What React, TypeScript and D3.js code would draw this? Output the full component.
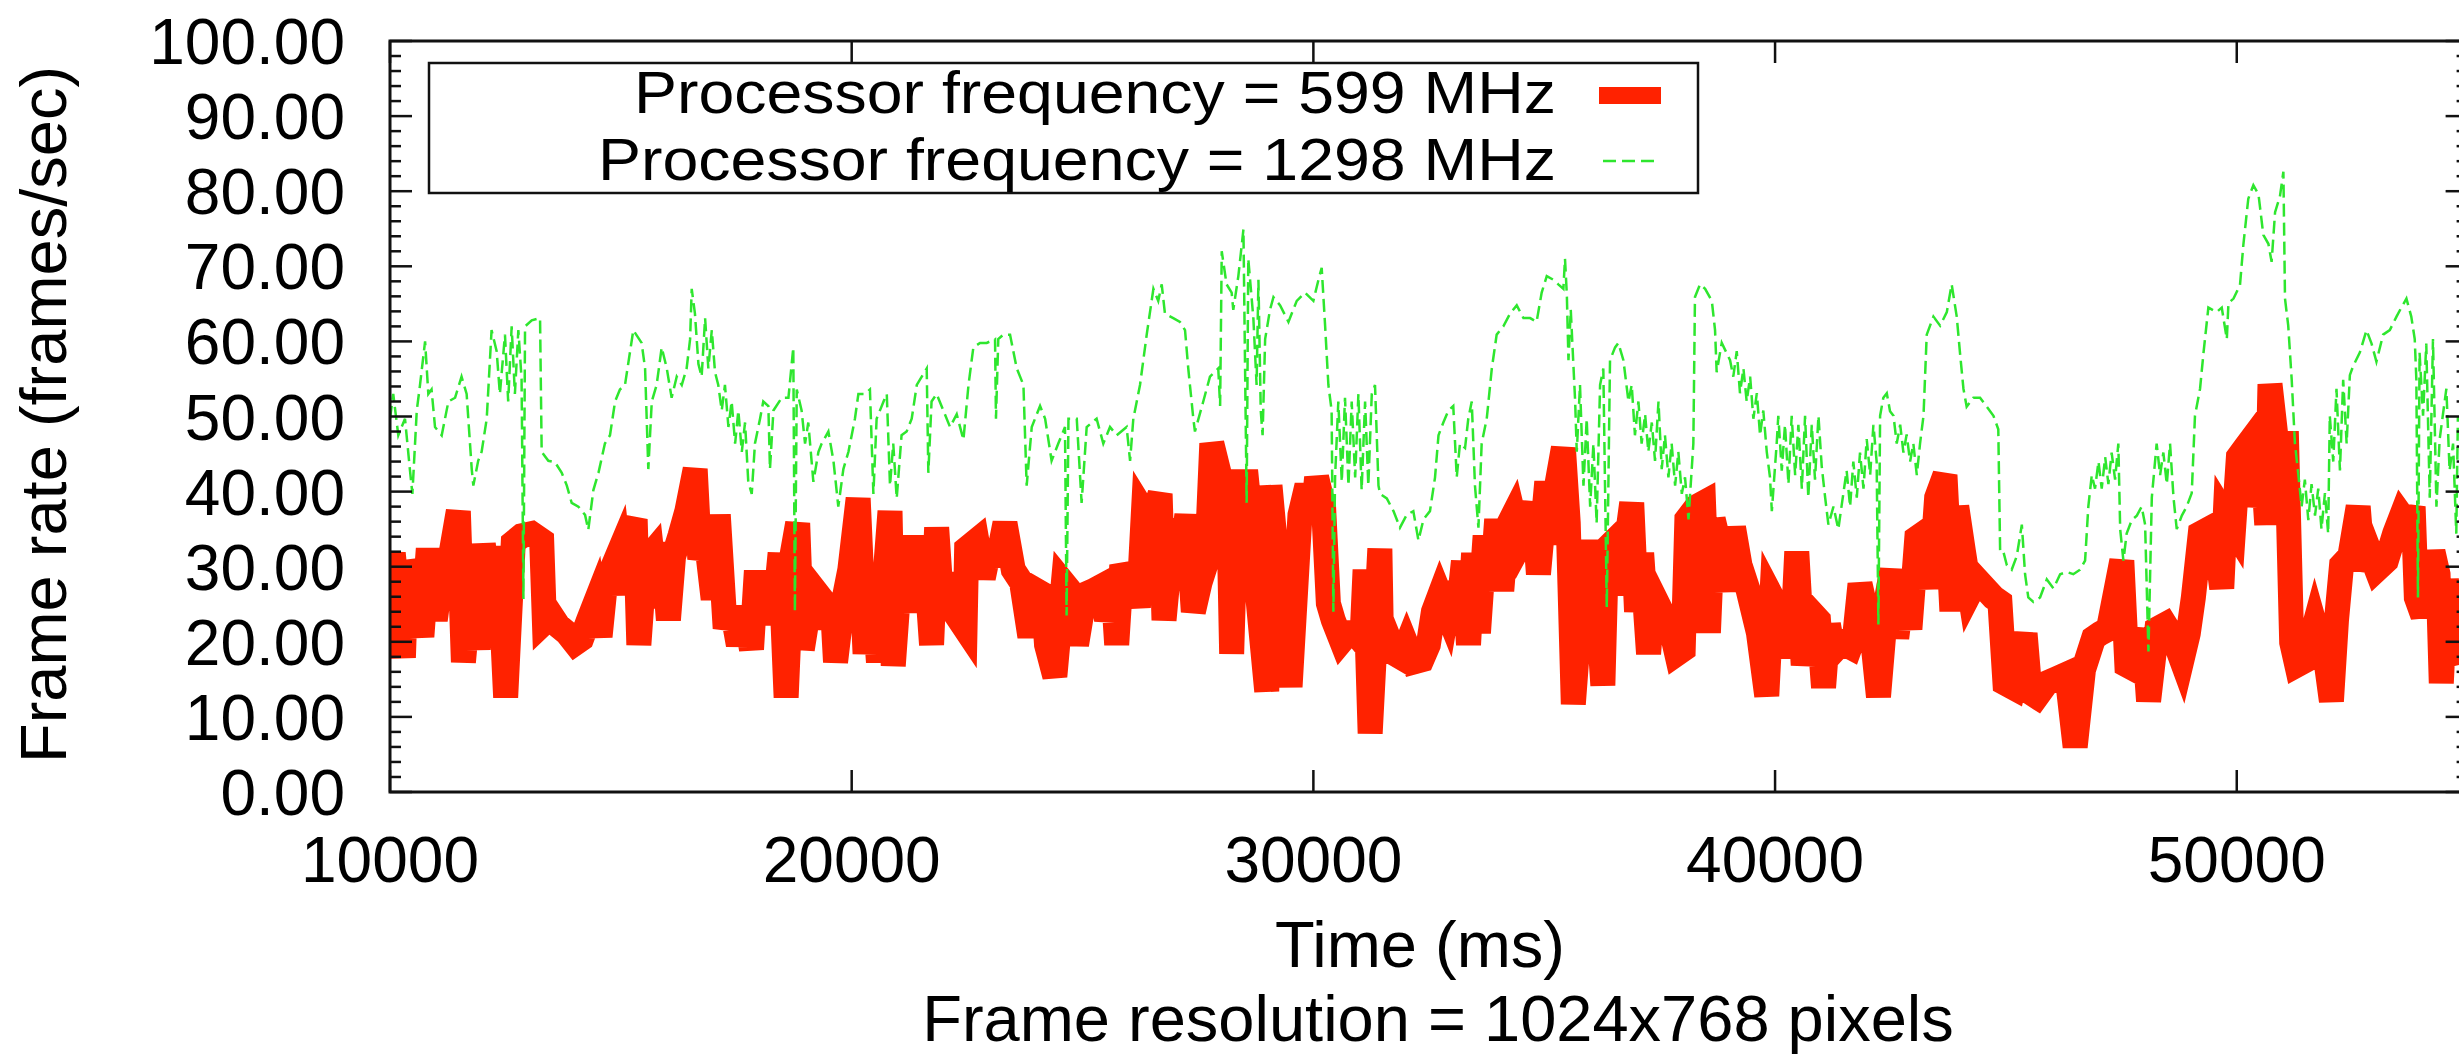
import React from 'react';
import * as d3 from 'd3';

// ---- data ----
const redTime = [
10000,10070,10290,10360,10540,10690,10830,10980,11080,11230,11480,11590,11730,11840,11910,12020,12200,12350,12505,12670,12850,13070,13285,13345,13500,13650,13830,14010,14150,14300,14440,14550,14660,14800,14950,15050,15160,15310,15390,15520,15670,15800,15900,16030,16140,16280,16430,16610,16710,16840,17000,17110,17260,17400,17545,17690,17830,17920,18090,18230,18300,18450,18580,18715,18830,18930,19060,19210,19350,19440,19570,19650,19780,19960,20140,20290,20430,20580,20830,20900,21050,21190,21340,21440,21590,21730,21840,21950,22130,22270,22455,22490,22710,22850,23000,23140,23320,23500,23680,23860,24010,24150,24220,24400,24585,24730,24870,25050,25235,25415,25520,25670,25740,25850,25960,26100,26210,26320,26430,26530,26680,26765,26970,27110,27260,27400,27545,27690,27800,27980,28160,28230,28340,28556,28700,28810,28990,29060,29210,29300,29495,29710,29860,30000,30070,30220,30325,30430,30610,30760,30900,31050,31120,31230,31440,31480,31620,31770,31910,32020,32170,32350,32490,32600,32740,32890,33000,33105,33250,33360,33470,33575,33720,33860,33970,34080,34190,34330,34480,34620,34765,34875,35055,35160,35270,35415,35520,35630,35740,35920,36065,36270,36350,36530,36640,36750,36895,37000,37110,37260,37360,37545,37725,37870,38010,38090,38300,38450,38556,38660,38810,38950,39100,39240,39420,39640,39820,39930,40040,40180,40360,40470,40610,40760,40940,41050,41155,41260,41440,41625,41730,41840,41950,42060,42240,42420,42530,42635,42780,42920,43070,43210,43360,43500,43680,43830,43935,44080,44220,44370,44550,44730,44870,44980,45160,45415,45520,45670,45880,46100,46320,46500,46680,46900,47040,47220,47510,47620,47800,47980,48090,48270,48450,48630,48810,48950,49060,49210,49390,49570,49675,49750,49930,50036,50180,50325,50360,50540,50650,50720,50865,51080,51190,51300,51480,51690,51800,51945,52050,52160,52270,52450,52630,52740,52880,53030,53240,53420,53570,53710,53820,53890,54030,54250,54360,54430,54540,54680,54800];
const redFps = [
28.5,31.8,17.9,30.7,26.8,20.7,32.4,22.9,27.4,28.5,37.4,17.3,26.8,24,19,33,24.6,32.7,12.6,33.2,34.1,34.4,33.5,22.6,23.5,22.1,21.2,19.8,20.4,22.9,25.1,20.7,27.4,29.6,31.8,26.3,34.1,36.3,19.6,30.7,31.8,24.6,33.2,22.9,31.3,34.1,37.4,43,31,34.1,25.7,36.9,21.8,24.6,19.6,24,19,27.9,27.9,26.8,22.3,31.8,12.6,31.8,35.8,19,24,26.8,25.7,21.8,26.3,17.3,24,29.6,39.1,18.4,30.2,17.3,37.4,16.8,29.6,24,34.1,25.1,31.8,19.6,35.2,25.1,29,23.5,21.8,32.4,33.5,28.5,33,30.2,35.8,29.6,27.9,20.7,26.8,26.3,19.6,15.4,27.9,26.8,19.6,26.3,26.8,27.4,22.9,26.3,19.6,30.2,28.5,29,24.6,37.4,36.3,36.9,39.7,22.9,36.3,29.6,36.9,24,27.9,30.7,46.4,41.9,39.7,18.4,41.3,41.3,32.4,25.1,13.4,40.8,30.7,29.6,14,36.9,40.8,37.4,41.9,38,25.1,22.9,20.1,21.2,21.2,20.1,29.6,7.8,32.4,18.4,20.7,18.4,17.9,19.6,17.3,17.6,19.6,24,26.3,24,27.9,22.3,30.7,19.6,31.8,21.2,34.1,26.8,36.3,26.8,35.2,36.9,33,34.6,38.5,29,41.3,33,40.8,45.8,35.8,11.7,20.7,20.1,33.5,14.2,32.4,33.5,26.3,31.8,38.5,24,31.8,18.4,26.3,24,22.3,18.4,19,36.3,38,38.5,21.2,36.3,32.4,26.8,35.2,30.2,26.8,21.2,12.8,26,24.7,22.3,18.1,32,16.9,24.1,22.9,13.9,22.3,18.7,19.9,19.3,21.1,27.7,24.7,23.5,12.7,25.9,29.6,20.5,27.7,21.7,33.8,34.4,27.1,39.2,42.2,24.1,38,32,26.5,28.3,27.1,25.9,25.3,14.5,13.9,21.1,13.3,12.7,14.5,15.1,15.7,6,16.3,20.5,21.1,21.7,30.8,16.9,16.3,21.7,12.1,21.7,22.3,20.5,17.5,21.1,25.9,34.4,35,32,27.1,36.8,35,44.6,45.8,47,38,45.8,35.6,54.3,46.4,46.4,19.9,16.9,17.5,22.3,19.9,16.9,12.1,22.9,30.2,31.4,38,29.6,32,29.6,30.8,34.4,36.8,35.6,38,25.9,23.5,32,29,14.5,28.3,19.9,16.9];

const greenTime = [
10000,10070,10180,10325,10430,10485,10580,10650,10760,10830,10900,10975,11120,11265,11410,11550,11660,11770,11805,11910,11985,12095,12200,12310,12380,12490,12560,12635,12705,12780,12850,12890,12925,13070,13250,13285,13430,13575,13720,13830,13935,14080,14225,14295,14405,14515,14655,14765,14875,14980,15090,15270,15450,15525,15595,15670,15775,15885,15995,16100,16210,16320,16425,16500,16535,16605,16680,16750,16825,16895,16970,17040,17110,17185,17255,17330,17400,17475,17545,17620,17690,17760,17835,17905,18015,18085,18195,18230,18305,18485,18630,18735,18770,18810,18915,18990,19060,19170,19280,19350,19495,19605,19710,19820,19930,20070,20145,20290,20395,20470,20540,20690,20760,20830,20900,20975,21080,21190,21300,21410,21625,21660,21730,21840,21985,22130,22275,22420,22530,22635,22780,22925,23105,23125,23175,23285,23430,23575,23720,23790,23900,24080,24190,24330,24475,24620,24655,24695,24875,24980,25090,25305,25450,25595,25740,25955,26030,26100,26245,26390,26535,26640,26715,26785,26965,27110,27220,27290,27400,27435,27615,27760,27940,27980,28015,28120,28230,28265,28375,28485,28555,28590,28700,28770,28810,28860,28900,28955,29060,29135,29280,29460,29640,29820,30000,30110,30180,30255,30325,30395,30433,30470,30540,30615,30685,30760,30830,30905,30975,31045,31120,31190,31265,31335,31410,31445,31590,31735,31875,32020,32165,32275,32385,32525,32635,32710,32815,32925,33030,33105,33175,33285,33355,33430,33500,33575,33645,33755,33865,33970,34115,34260,34405,34550,34695,34835,34945,35055,35200,35305,35415,35450,35490,35525,35575,35670,35705,35775,35850,35920,35995,36065,36135,36210,36280,36355,36425,36535,36605,36715,36825,36895,36965,37040,37110,37185,37255,37330,37400,37475,37545,37615,37690,37760,37835,37905,37980,38050,38125,38230,38265,38375,38485,38630,38700,38735,38845,39025,39095,39170,39240,39315,39385,39460,39530,39605,39675,39745,39820,39890,39930,40035,40070,40145,40215,40290,40360,40435,40505,40580,40650,40720,40795,40865,40940,41010,41085,41155,41265,41370,41480,41550,41625,41695,41770,41840,41915,41985,42060,42130,42200,42238,42275,42345,42420,42490,42565,42635,42710,42780,42850,42925,42995,43070,43140,43215,43285,43430,43575,43720,43825,43935,44005,44080,44150,44295,44440,44585,44730,44835,44875,44945,45020,45125,45235,45345,45415,45485,45595,45740,45885,46030,46175,46320,46460,46605,46715,46785,46860,46930,47005,47075,47150,47220,47290,47365,47435,47475,47545,47615,47725,47835,47940,48015,48087,48160,48265,48340,48410,48485,48555,48630,48700,48810,48915,49025,49095,49205,49280,49385,49565,49675,49785,49820,49930,50070,50145,50250,50360,50470,50505,50575,50685,50755,50830,50935,51010,51045,51115,51190,51260,51335,51405,51475,51550,51620,51695,51765,51835,51910,51980,52015,52090,52160,52235,52305,52380,52450,52520,52665,52810,52920,53025,53170,53315,53460,53565,53675,53780,53855,53890,53925,53960,54035,54105,54180,54250,54325,54395,54540,54610,54685,54755,54790];
const greenFps = [
49.7,53,47.5,49.7,43,39.7,50.8,54.2,60,53,53.6,48.6,47.5,52,52.5,55.3,53,43,40.8,44.1,45.3,49.7,61.5,58.7,53,60.9,52,62,53,61.5,55,25.7,62,62.8,63.1,45.3,44.1,43.9,42.5,40.8,38.5,38,36.9,34.9,40.2,42.5,46.4,47.5,52,53.6,54.2,61.5,59.8,56.4,43,52,54.2,59.2,56.4,52.5,55.3,54.2,56.4,60.3,67,63.7,57,55.3,63.1,56.4,61.5,55.9,54.2,50.8,54.2,48.6,52,46.4,50.8,45.3,49.2,41.3,39.7,46.4,49.7,52,51.4,43,50.8,52.5,52.5,59.2,24,53.6,50.8,46.4,49.2,41.3,45.3,46.4,48,44.1,38,43,45.3,49.7,53,53,53.6,39.7,49.7,52,53,40.8,46.4,39.1,47.5,48,49.7,54.2,56.4,42.5,52,53,50.8,48.6,50.3,46.9,54.2,59.2,59.8,59.8,60.3,49.7,60.3,60.9,60.9,56.4,54.2,40.8,48.6,51.4,49.7,44.1,46.4,48.6,23.5,49.7,49.7,38.5,48.6,49.7,46.4,48.6,47.5,48.6,44.1,49.7,54.2,60.9,67,65.4,67.6,63.7,63.1,62.6,61.5,56.4,49.7,48,52,55.3,56.4,51.4,72,67.6,66.5,64.2,68.7,74.9,38.5,71,63.1,54.2,68.2,50.8,47.5,60.3,64.2,65.9,64.8,62.6,65.4,66.5,65.4,68.2,69.8,62,54.2,50.8,24,41.9,52,41.3,52.5,40.8,52,41.9,53,40.2,52,40.8,53,54.2,40.8,39.7,39.1,37.4,35.2,36.9,37.4,33.5,36.3,37.4,41.9,47.5,49.2,50.8,51.4,41.9,46.4,45.8,49.7,52,40.8,35.2,46.4,49.7,56.4,60.9,62,63.7,64.8,63.1,63.1,62.6,66.5,68.7,68.2,67.6,67,71,66.2,57.5,64.2,52,45.3,54.2,40.8,49.7,38,46.4,35.8,54.2,56.4,24.6,57.5,59.2,59.8,57.5,52,54.2,47.5,52,46.4,50.3,45.3,49.2,44.1,52,43,47.5,41.9,46.4,40.8,45.3,39.7,41.9,36.3,46.4,65.9,67.6,67,65.4,61.5,55.9,59.8,57.5,55.3,58.7,53.1,56.4,52,55.3,49.7,53.1,47.5,50.8,45.3,41.9,37.4,46.4,50.1,42.8,48.9,41,50.1,42.2,48.9,40.4,50.1,39.2,48.9,41.6,50.1,43.4,39.2,35.6,38,35,39.8,42.8,38,44,39.2,45.2,40.4,47,42.2,48.9,44,22.3,50.1,52.5,53.1,50.7,50.1,46.4,48.9,45.2,47.6,44,46.4,42.2,46.4,50.1,60.9,63.3,62.1,63.9,67.6,63.3,58.5,53.7,51.3,52.5,52.5,51.3,50.1,48.3,32,32,30.2,29.6,31.4,35.6,29,25.9,25.3,25.9,28.3,27.1,29,29.3,29,29.6,30.8,38,42.2,40.4,44,40.4,44.6,41,45.2,41.6,46.4,35,30.8,34.4,36.2,36.8,38,35.6,18.7,39.2,46.4,42.2,45.2,41,46.4,39.2,35,36.8,38,39.8,50.1,53.7,58.5,64.5,63.9,64.5,60.3,65.1,65.7,67.5,73,79,80.8,79.6,77.8,74.2,73,70.6,77.2,79.3,82.6,65.7,62.1,54.9,46.4,42.2,38,41.6,36.2,41,36.8,40.4,35,39.8,34.4,50.1,44,53.7,42.8,54.9,46.4,55.5,56.7,58.5,61.5,59.7,57.3,60.9,61.5,63.3,64.5,65.7,63.3,60.3,54.9,25.9,58.5,50.1,59.7,39.2,60.3,38,47,53.7,42.8,46.4,34.4,50];

const yTickValues = [0, 10, 20, 30, 40, 50, 60, 70, 80, 90, 100];
const xTickValues = [10000, 20000, 30000, 40000, 50000];
const seriesLabels = ['Processor frequency = 599 MHz', 'Processor frequency = 1298 MHz'];
const seriesColors = ['#ff2200', '#2ee62e'];
const xTitle = 'Time (ms)';
const xSubTitle = 'Frame resolution = 1024x768 pixels';
const yTitle = 'Frame rate (frames/sec)';

export default function App() {
  const W = 2459;
  const H = 1057;
  const left = 390, right = 2467.6, top = 41, bottom = 792;
  const x = d3.scaleLinear().domain([10000, 55000]).range([left, right]);
  const y = d3.scaleLinear().domain([0, 100]).range([bottom, top]);
  const font = "'Liberation Sans', Arial, Helvetica, sans-serif";
  const fsTick = 64;
  const fs = 65;
  const fsLegend = 60;

  const redPts: [number, number][] = redTime.map((t, i) => [t, redFps[i]]);
  const greenPts: [number, number][] = greenTime.map((t, i) => [t, greenFps[i]]);
  const line = d3.line<[number, number]>().x(d => x(d[0])).y(d => y(d[1]));

  const minorY = d3.range(0, 100.001, 2).filter(v => Math.abs(v % 10) > 0.01);

  return (
    <svg width={W} height={H} style={{ position: 'absolute', left: 0, top: 0, background: '#fff' }}
      fontFamily={font}>
      <rect x={0} y={0} width={W} height={H} fill="#fff" />
      <defs>
        <clipPath id="plotClip">
          <rect x={left} y={top} width={right - left} height={bottom - top} />
        </clipPath>
      </defs>

      <g clipPath="url(#plotClip)">
        <path d={line(redPts) || ''} fill="none" stroke={seriesColors[0]} strokeWidth={25}
          strokeLinejoin="miter" strokeMiterlimit={4} strokeLinecap="butt" />
        <path d={line(greenPts) || ''} fill="none" stroke={seriesColors[1]} strokeWidth={2.5}
          strokeDasharray="13 6" strokeLinejoin="miter" />
      </g>

      {/* ticks */}
      <g stroke="#111" strokeWidth={2.5}>
        {yTickValues.map(v => (
          <g key={'yt' + v}>
            <line x1={left} x2={left + 22} y1={y(v)} y2={y(v)} />
            <line x1={right} x2={right - 22} y1={y(v)} y2={y(v)} />
          </g>
        ))}
        {minorY.map(v => (
          <g key={'ym' + v}>
            <line x1={left} x2={left + 11} y1={y(v)} y2={y(v)} />
            <line x1={right} x2={right - 11} y1={y(v)} y2={y(v)} />
          </g>
        ))}
        {xTickValues.map(v => (
          <g key={'xt' + v}>
            <line x1={x(v)} x2={x(v)} y1={bottom} y2={bottom - 22} />
            <line x1={x(v)} x2={x(v)} y1={top} y2={top + 22} />
          </g>
        ))}
      </g>

      {/* frame */}
      <rect x={left} y={top} width={right - left} height={bottom - top} fill="none" stroke="#111" strokeWidth={3} />

      {/* tick labels */}
      {yTickValues.map(v => (
        <text key={'yl' + v} x={345} y={y(v) + 23} textAnchor="end" fontSize={fsTick} fill="#000">
          {v.toFixed(2)}
        </text>
      ))}
      {xTickValues.map(v => (
        <text key={'xl' + v} x={x(v)} y={882} textAnchor="middle" fontSize={fsTick} fill="#000">
          {String(v)}
        </text>
      ))}

      {/* titles */}
      <text x={1420} y={967} textAnchor="middle" fontSize={fs} fill="#000">{xTitle}</text>
      <text x={1438} y={1041} textAnchor="middle" fontSize={fs} fill="#000">{xSubTitle}</text>
      <text transform={`translate(66, ${(top + bottom) / 2 - 2}) rotate(-90)`} textAnchor="middle" fontSize={fs} fill="#000">{yTitle}</text>

      {/* legend */}
      <rect x={429} y={63} width={1698 - 429} height={193 - 63} fill="#fff" stroke="#111" strokeWidth={2.5} />
      <text x={1556} y={112.5} textAnchor="end" fontSize={fsLegend} fill="#000"
        textLength={922} lengthAdjust="spacingAndGlyphs">{seriesLabels[0]}</text>
      <text x={1556} y={180} textAnchor="end" fontSize={fsLegend} fill="#000"
        textLength={958} lengthAdjust="spacingAndGlyphs">{seriesLabels[1]}</text>
      <line x1={1599} x2={1661} y1={95.5} y2={95.5} stroke={seriesColors[0]} strokeWidth={17} />
      <line x1={1603} x2={1657} y1={161} y2={161} stroke={seriesColors[1]} strokeWidth={2.5} strokeDasharray="13 6" />
    </svg>
  );
}
